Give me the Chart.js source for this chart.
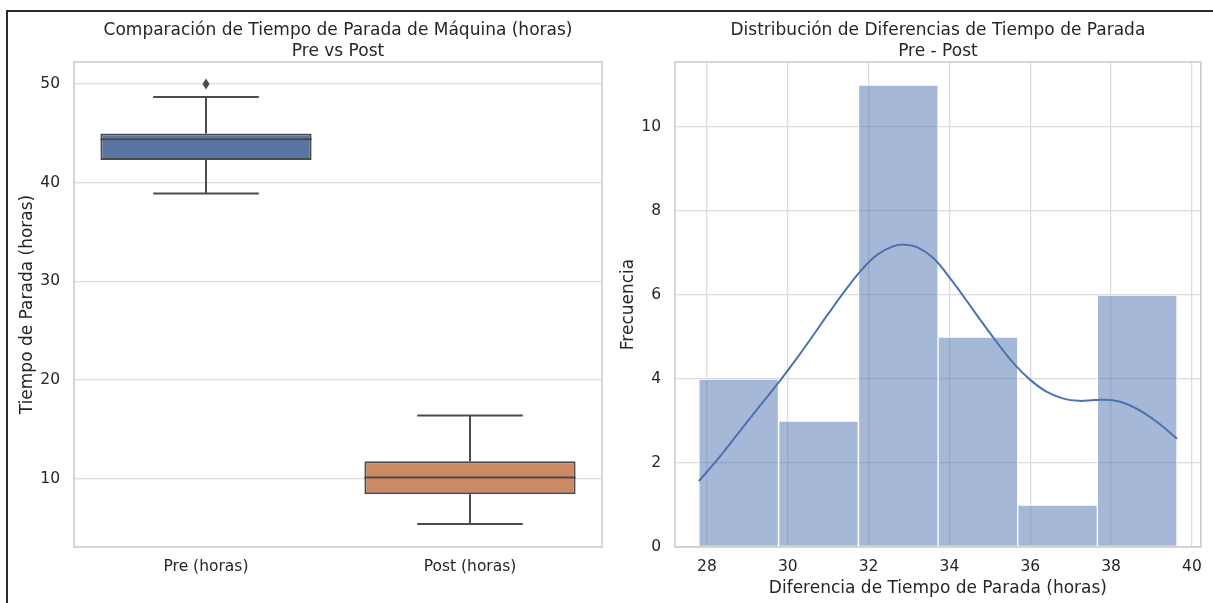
<!DOCTYPE html>
<html>
<head>
<meta charset="utf-8">
<script src="https://cdn.jsdelivr.net/npm/chart.js@4/dist/chart.umd.min.js"></script>
<style>
  body { margin: 0; background: #fff; width: 1213px; height: 603px; overflow: hidden; position: relative; }
  canvas { position: absolute; top: 0; }
  #boxChart { left: 0; }
  #histChart { left: 610px; }
  .frame { position: absolute; left: 6px; top: 10px; right: 0; bottom: 0;
           border-left: 2px solid #2b2b2b; border-top: 2px solid #2b2b2b; pointer-events: none; }
</style>
</head>
<body>
<canvas id="boxChart" width="610" height="603"></canvas>
<canvas id="histChart" width="603" height="603"></canvas>
<div class="frame"></div>
<script>
// Box plot data (Pre vs Post)
const boxCategories = ['Pre (horas)', 'Post (horas)'];
const boxQ1 = [42.3, 8.4];
const boxMedian = [44.4, 10.1];
const boxQ3 = [45.0, 11.75];
const whiskerLow = [38.9, 5.4];
const whiskerHigh = [48.7, 16.4];
const boxOutliers = [[50.0], []];
const boxYTicks = [10, 20, 30, 40, 50];

// Histogram of differences
const binEdges = [27.80, 29.77, 31.75, 33.72, 35.69, 37.66, 39.63];
const binCounts = [4, 3, 11, 5, 1, 6];
const kdeX = [27.8, 28.3, 28.8, 29.3, 29.8, 30.2, 30.6, 31.0, 31.4, 31.8, 32.2, 32.6, 32.9,
              33.2, 33.6, 34.0, 34.4, 34.8, 35.2, 35.6, 36.0, 36.4, 36.8, 37.2, 37.6, 38.0,
              38.4, 38.8, 39.2, 39.63];
const kdeY = [1.57, 2.13, 2.74, 3.35, 3.95, 4.46, 5.0, 5.55, 6.08, 6.57, 6.95, 7.16, 7.2,
              7.14, 6.88, 6.42, 5.9, 5.36, 4.84, 4.36, 3.98, 3.7, 3.54, 3.48, 3.5, 3.5,
              3.4, 3.2, 2.93, 2.58];
const histXTicks = [28, 30, 32, 34, 36, 38, 40];
const histYTicks = [0, 2, 4, 6, 8, 10];

const textColor = '#262626';
const gridColor = '#dcdcdc';
const lineGray = '#4b4b4b';
const fontFamily = "'DejaVu Sans', sans-serif";

Chart.defaults.font.family = fontFamily;
Chart.defaults.color = textColor;
Chart.defaults.animation = false;

// light grey frame around the plot area (seaborn whitegrid spines)
const frameBox = {
  id: 'frameBox',
  afterDatasetsDraw(chart) {
    const { ctx, chartArea: a } = chart;
    ctx.save();
    ctx.strokeStyle = '#cccccc';
    ctx.lineWidth = 1.6;
    ctx.strokeRect(a.left, a.top, a.right - a.left, a.bottom - a.top);
    ctx.restore();
  }
};

// whiskers, caps, medians and fliers on top of the floating bars
const boxWhiskers = {
  id: 'boxWhiskers',
  afterDatasetsDraw(chart) {
    const { ctx, scales: { y } } = chart;
    const meta = chart.getDatasetMeta(0);
    ctx.save();
    ctx.strokeStyle = lineGray;
    ctx.lineWidth = 2;
    meta.data.forEach((bar, i) => {
      const cx = bar.x;
      const half = bar.width / 2;
      const cap = half / 2;
      const yLow = y.getPixelForValue(whiskerLow[i]);
      const yHigh = y.getPixelForValue(whiskerHigh[i]);
      const yQ1 = y.getPixelForValue(boxQ1[i]);
      const yQ3 = y.getPixelForValue(boxQ3[i]);
      const yMed = y.getPixelForValue(boxMedian[i]);
      ctx.beginPath();
      ctx.moveTo(cx, yQ3); ctx.lineTo(cx, yHigh);
      ctx.moveTo(cx - cap, yHigh); ctx.lineTo(cx + cap, yHigh);
      ctx.moveTo(cx, yQ1); ctx.lineTo(cx, yLow);
      ctx.moveTo(cx - cap, yLow); ctx.lineTo(cx + cap, yLow);
      ctx.moveTo(cx - half, yMed); ctx.lineTo(cx + half, yMed);
      ctx.stroke();
      ctx.fillStyle = lineGray;
      boxOutliers[i].forEach(v => {
        const py = y.getPixelForValue(v);
        ctx.beginPath();
        ctx.moveTo(cx, py - 5.5);
        ctx.lineTo(cx + 3.5, py);
        ctx.lineTo(cx, py + 5.5);
        ctx.lineTo(cx - 3.5, py);
        ctx.closePath();
        ctx.fill();
      });
    });
    ctx.restore();
  }
};

function titleOptions(lines) {
  return {
    display: true,
    fullSize: false,
    text: lines,
    color: textColor,
    font: { size: 17, weight: 'normal', lineHeight: 1.22 },
    padding: { top: 20.5, bottom: 0 }
  };
}

const boxChart = new Chart(document.getElementById('boxChart'), {
  type: 'bar',
  data: {
    labels: boxCategories,
    datasets: [{
      data: boxQ1.map((q, i) => [q, boxQ3[i]]),
      backgroundColor: ['#5875a4', '#cc8963'],
      borderColor: lineGray,
      borderWidth: 2,
      borderSkipped: false,
      barPercentage: 0.8,
      categoryPercentage: 1
    }]
  },
  options: {
    responsive: false,
    layout: { padding: { left: 0, right: 8, top: 0, bottom: 0 } },
    plugins: {
      legend: { display: false },
      tooltip: { enabled: false },
      title: titleOptions(['Comparación de Tiempo de Parada de Máquina (horas)', 'Pre vs Post'])
    },
    scales: {
      x: {
        grid: { display: false, drawTicks: false },
        border: { display: false },
        ticks: { font: { size: 15.5 }, padding: 11, color: textColor },
        afterFit(scale) { scale.height = 56; }
      },
      y: {
        min: 3.06,
        max: 52.24,
        afterBuildTicks(scale) { scale.ticks = boxYTicks.map(v => ({ value: v })); },
        grid: { color: gridColor, lineWidth: 1.3, drawTicks: false },
        border: { display: false },
        ticks: { font: { size: 15.5 }, padding: 14, color: textColor },
        title: {
          display: true,
          text: 'Tiempo de Parada (horas)',
          font: { size: 17 },
          color: textColor,
          padding: { top: 17, bottom: 0 }
        },
        afterFit(scale) { scale.width = 74; }
      }
    }
  },
  plugins: [frameBox, boxWhiskers]
});

const binCenters = binEdges.slice(0, -1).map((e, i) => (e + binEdges[i + 1]) / 2);

const histChart = new Chart(document.getElementById('histChart'), {
  type: 'bar',
  data: {
    datasets: [
      {
        type: 'line',
        data: kdeX.map((x, i) => ({ x: x, y: kdeY[i] })),
        borderColor: '#4c72b0',
        borderWidth: 2,
        pointRadius: 0,
        tension: 0.4,
        order: 0
      },
      {
        type: 'bar',
        data: binCenters.map((x, i) => ({ x: x, y: binCounts[i] })),
        backgroundColor: 'rgba(76, 114, 176, 0.5)',
        borderColor: 'rgba(255, 255, 255, 0.9)',
        borderWidth: 1,
        borderSkipped: false,
        barPercentage: 1,
        categoryPercentage: 1,
        order: 1
      }
    ]
  },
  options: {
    responsive: false,
    layout: { padding: { left: 0, right: 10, top: 0, bottom: 0 } },
    plugins: {
      legend: { display: false },
      tooltip: { enabled: false },
      title: titleOptions(['Distribución de Diferencias de Tiempo de Parada', 'Pre - Post'])
    },
    scales: {
      x: {
        type: 'linear',
        min: 27.21,
        max: 40.22,
        offset: false,
        afterBuildTicks(scale) { scale.ticks = histXTicks.map(v => ({ value: v })); },
        grid: { offset: false, color: gridColor, lineWidth: 1.3, drawTicks: false },
        border: { display: false },
        ticks: { font: { size: 15.5 }, padding: 11, color: textColor, maxRotation: 0 },
        title: {
          display: true,
          text: 'Diferencia de Tiempo de Parada (horas)',
          font: { size: 17 },
          color: textColor,
          padding: { top: 0, bottom: 4 }
        },
        afterFit(scale) { scale.height = 56; }
      },
      y: {
        min: 0,
        max: 11.55,
        afterBuildTicks(scale) { scale.ticks = histYTicks.map(v => ({ value: v })); },
        grid: { color: gridColor, lineWidth: 1.3, drawTicks: false },
        border: { display: false },
        ticks: { font: { size: 15.5 }, padding: 14, color: textColor },
        title: {
          display: true,
          text: 'Frecuencia',
          font: { size: 17 },
          color: textColor,
          padding: { top: 8, bottom: 0 }
        },
        afterFit(scale) { scale.width = 65; }
      }
    }
  },
  plugins: [frameBox]
});
</script>
</body>
</html>
